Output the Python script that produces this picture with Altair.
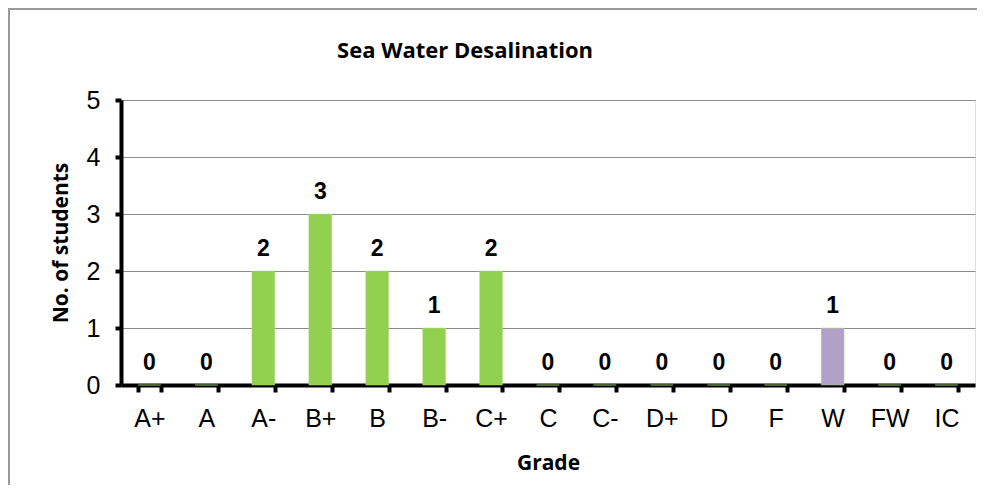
import altair as alt
import pandas as pd

grades = ["A+", "A", "A-", "B+", "B", "B-", "C+", "C", "C-", "D+", "D", "F", "W", "FW", "IC"]
counts = [0, 0, 2, 3, 2, 1, 2, 0, 0, 0, 0, 0, 1, 0, 0]
bar_colors = ["#92D050", "#92D050", "#92D050", "#92D050", "#92D050", "#92D050", "#92D050",
              "#92D050", "#92D050", "#92D050", "#92D050", "#92D050", "#B1A0C7", "#92D050", "#92D050"]
y_ticks = [0, 1, 2, 3, 4, 5]

df = pd.DataFrame({"grade": grades, "count": counts, "color": bar_colors})

W, H = 854, 285

x_enc = alt.X(
    "grade:N", sort=grades,
    scale=alt.Scale(paddingInner=0.6, paddingOuter=0.3),
    axis=alt.Axis(
        title="Grade", labelAngle=0, tickBand="extent", grid=False,
        domainColor="black", domainWidth=4, tickColor="black", tickWidth=4, tickSize=7,
        labelFont="Liberation Sans", labelFontSize=25, labelColor="black", labelPadding=14,
        titleFont="Open Sans", titleFontSize=21, titleFontWeight="bold", titleColor="black", titlePadding=21,
    ),
)
y_enc = alt.Y(
    "count:Q",
    scale=alt.Scale(domain=[0, 5]),
    axis=alt.Axis(
        title="No. of students", values=y_ticks, format="d", grid=True,
        gridColor="#8c8c8c", gridWidth=1,
        domainColor="black", domainWidth=4, tickColor="black", tickWidth=4, tickSize=6,
        labelFont="Liberation Sans", labelFontSize=25, labelColor="black", labelPadding=15,
        titleFont="Open Sans", titleFontSize=21, titleFontWeight="bold", titleColor="black", titlePadding=15,
    ),
)

frame = alt.Chart(pd.DataFrame({"v": [0]})).mark_rect(
    fillOpacity=0, stroke="#9a9a9a", strokeWidth=2
).encode(
    x=alt.value(-112), x2=alt.value(W + 8), y=alt.value(-91), y2=alt.value(H + 200)
)

bars = alt.Chart(df).mark_bar(stroke="#a8d878", strokeWidth=0.5).encode(
    x=x_enc, y=y_enc, color=alt.Color("color:N", scale=None)
)

labels = alt.Chart(df).mark_text(
    font="Liberation Sans", fontSize=23, fontWeight="bold", dy=-22, baseline="middle", color="black"
).encode(x=alt.X("grade:N", sort=grades), y=alt.Y("count:Q"), text="count:Q")

chart = alt.layer(frame, bars, labels).properties(
    width=W, height=H,
    title=alt.TitleParams(
        "Sea Water Desalination", font="Open Sans", fontSize=22, fontWeight="bold",
        anchor="middle", dx=-83, dy=77, offset=0, color="black", baseline="bottom",
    ),
    autosize=alt.AutoSizeParams(type="none"),
    padding={"left": 113, "top": 92, "right": 2, "bottom": 100},
).configure_view(strokeWidth=0).configure(background="white")

chart.save("out.html", embed_options={"renderer": "svg", "actions": False})
